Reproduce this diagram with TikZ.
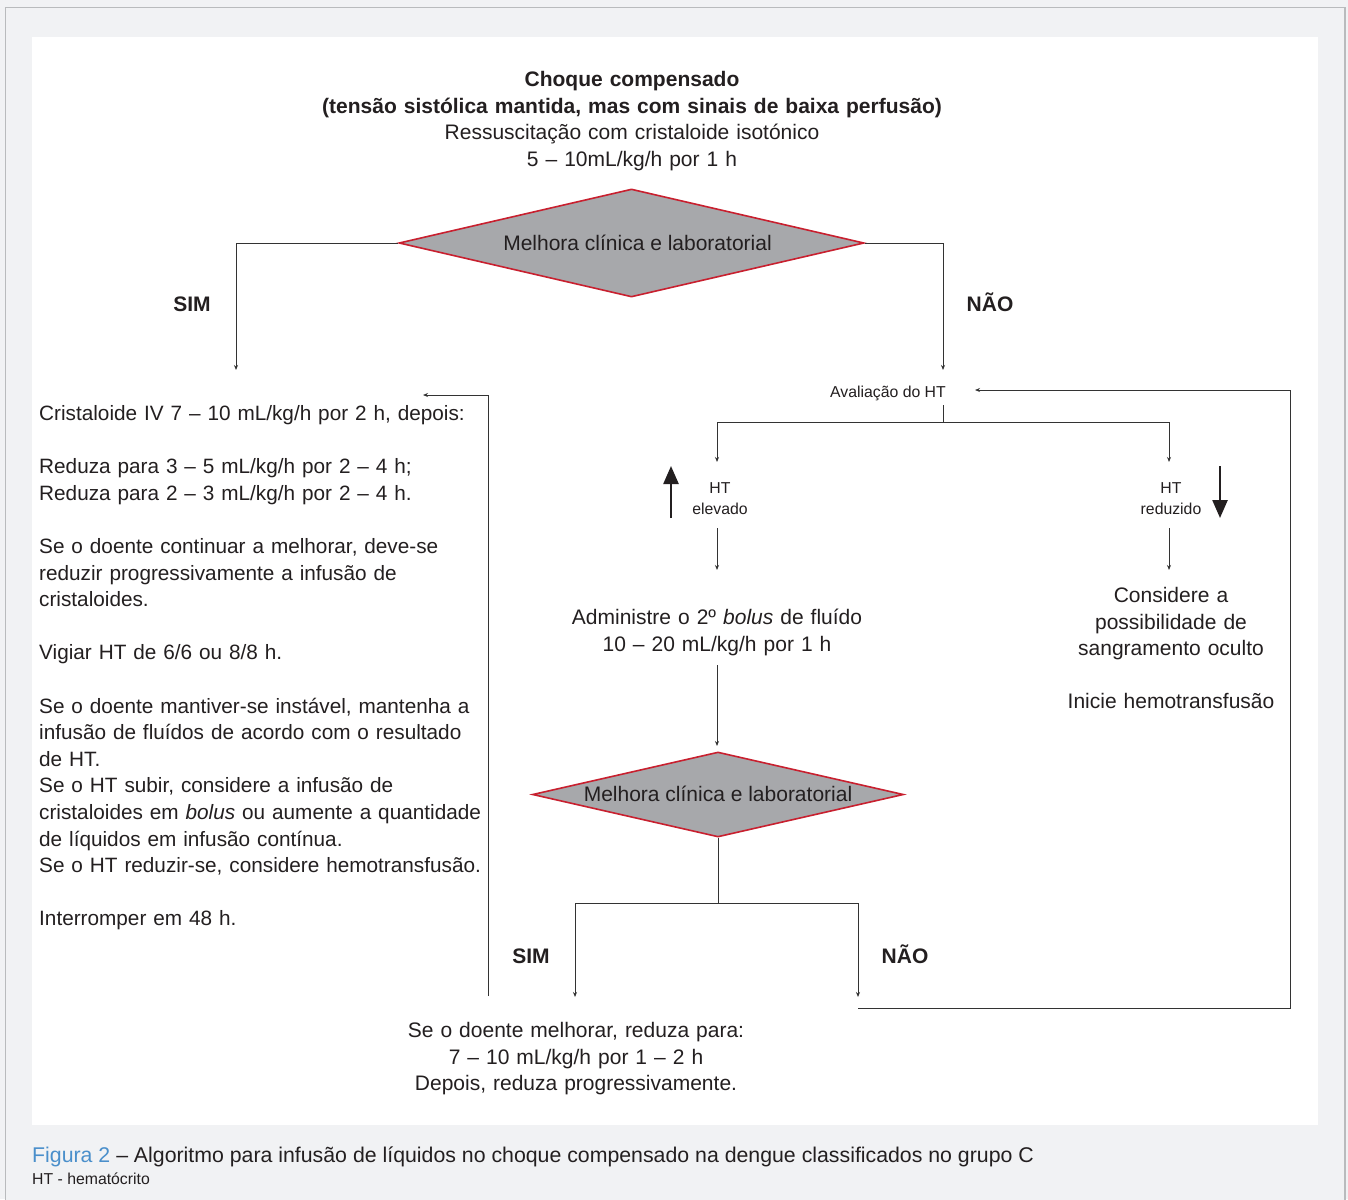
\documentclass[tikz,border=0pt]{standalone}
\usepackage{fontspec}
\setmainfont{Liberation Sans}
\usetikzlibrary{shapes.geometric,arrows.meta}
\definecolor{txt}{HTML}{231F20}
\definecolor{lin}{HTML}{333333}
\definecolor{dfill}{HTML}{A7A8AB}
\definecolor{dred}{HTML}{C8202F}
\definecolor{bgg}{HTML}{F1F2F4}
\definecolor{frm}{HTML}{B9BBBD}
\definecolor{figblue}{HTML}{4A8FCB}
\newcommand\fa{\fontsize{21.0}{26.6}\selectfont}
\newcommand\fl{\fontsize{20.75}{26.6}\selectfont}
\newcommand\fc{\fontsize{21.3}{26.6}\selectfont}
\newcommand\fb{\fontsize{15.8}{21}\selectfont}
\begin{document}
\begin{tikzpicture}[x=1pt,y=-1pt,
  every node/.style={text=txt,inner sep=0pt},
  txa/.style={font=\fa},
  txb/.style={font=\fb},
  lab/.style={font=\fa\bfseries},
  dec/.style={diamond,draw=dred,fill=dfill,line width=1.6pt,inner sep=0pt,font=\fa},
  conn/.style={draw=lin,line width=0.9pt},
  arr/.style={conn,-{Stealth[length=5pt,width=4pt]}},
  bigarr/.style={draw=txt,line width=2.4pt,-{Triangle[length=18pt,width=15pt]}}]
\useasboundingbox (0,0) rectangle (1348,1199);
% background
\fill[bgg] (0,0) rectangle (1348,1199);
\draw[frm,line width=1.2pt,fill=bgg] (5.5,7.5) rectangle (1345,1210);
\fill[white] (32,37) rectangle (1318,1125);
% title
\node[txa,anchor=base,text width=760pt,align=center] (title) at (632,86.5)
  {\textbf{Choque compensado}\\\textbf{(tensão sistólica mantida, mas com sinais de baixa perfusão)}\\Ressuscitação com cristaloide isotónico\\5 – 10mL/kg/h por 1 h};
% first decision
\node[dec,minimum width=465pt,minimum height=108pt,aspect=4.3] (d1) at (631.5,243) {\hspace{12pt}Melhora clínica e laboratorial};
\coordinate (sL) at (236,370);
\coordinate (nR) at (943,370);
\draw[arr] (d1.west) -| (sL);
\draw[arr] (d1.east) -| (nR);
\node[lab,anchor=base] (sim1) at (192,311.5) {SIM};
\node[lab,anchor=base] (nao1) at (990,311.5) {NÃO};
% left text block
\node[font=\fl,anchor=base west,text width=470pt,align=left] (left) at (39,420.5)
  {Cristaloide IV 7 – 10 mL/kg/h por 2 h, depois:\\[26.6pt]
   Reduza para 3 – 5 mL/kg/h por 2 – 4 h;\\
   Reduza para 2 – 3 mL/kg/h por 2 – 4 h.\\[26.6pt]
   Se o doente continuar a melhorar, deve-se\\
   reduzir progressivamente a infusão de\\
   cristaloides.\\[26.6pt]
   Vigiar HT de 6/6 ou 8/8 h.\\[26.6pt]
   Se o doente mantiver-se instável, mantenha a\\
   infusão de fluídos de acordo com o resultado\\
   de HT.\\
   Se o HT subir, considere a infusão de\\
   cristaloides em \textit{bolus} ou aumente a quantidade\\
   de líquidos em infusão contínua.\\
   Se o HT reduzir-se, considere hemotransfusão.\\[26.6pt]
   Interromper em 48 h.};
% HT evaluation
\node[txb,anchor=base] (aval) at (888,397.5) {Avaliação do HT};
\coordinate (a1) at (943,405);
\coordinate (aj) at (943,422);
\coordinate (hL) at (717,462);
\coordinate (hR) at (1169,462);
\draw[conn] (a1) -- (aj);
\draw[arr] (aj) -| (hL);
\draw[arr] (aj) -| (hR);
\node[txb,anchor=base,text width=120pt,align=center] (hel) at (720,493.5) {HT\\elevado};
\node[txb,anchor=base,text width=120pt,align=center] (hred) at (1171,493.5) {HT\\reduzido};
\coordinate (upA) at (671,518);
\coordinate (upB) at (671,466);
\coordinate (dnA) at (1220,466);
\coordinate (dnB) at (1220,518);
\draw[bigarr] (upA) -- (upB);
\draw[bigarr] (dnA) -- (dnB);
\coordinate (e1) at (717,528);
\coordinate (e2) at (717,570);
\coordinate (r1) at (1169,528);
\coordinate (r2) at (1169,570);
\draw[arr] (e1) -- (e2);
\draw[arr] (r1) -- (r2);
\node[txa,anchor=base,text width=400pt,align=center] (adm) at (717,624.5)
  {Administre o 2º \textit{bolus} de fluído\\10 – 20 mL/kg/h por 1 h};
\node[txa,anchor=base,text width=260pt,align=center] (cons) at (1171,602.5)
  {Considere a\\possibilidade de\\sangramento oculto\\[26.6pt]Inicie hemotransfusão};
\coordinate (m1) at (717,665);
\coordinate (m2) at (717,746);
\draw[arr] (m1) -- (m2);
% second decision
\node[dec,minimum width=371pt,minimum height=85pt,aspect=4.36] (d2) at (718,794.5) {\raisebox{1pt}{Melhora clínica e laboratorial}};
\coordinate (bj) at (718,903);
\coordinate (bS) at (575,997);
\coordinate (bN) at (858,997);
\draw[conn] (d2.south) -- (bj);
\draw[arr] (bj) -| (bS);
\draw[arr] (bj) -| (bN);
\node[lab,anchor=base] (sim2) at (531,963.5) {SIM};
\node[lab,anchor=base] (nao2) at (905,963.5) {NÃO};
\node[txa,anchor=base,text width=420pt,align=center] (fin) at (576,1037.5)
  {Se o doente melhorar, reduza para:\\7 – 10 mL/kg/h por 1 – 2 h\\Depois, reduza progressivamente.};
% feedback loops
\coordinate (fb1) at (858,1008);
\coordinate (fbc) at (1290,390);
\coordinate (fbt) at (975,390);
\draw[arr] (fb1) -| (fbc) -- (fbt);
\coordinate (lf1) at (488,996);
\coordinate (lft) at (423,395);
\draw[arr] (lf1) |- (lft);
% caption
\node[font=\fc,anchor=base west] (cap) at (32,1162)
  {\textcolor{figblue}{Figura 2} – Algoritmo para infusão de líquidos no choque compensado na dengue classificados no grupo C};
\node[txb,anchor=base west] (cap2) at (32,1184) {HT - hematócrito};
\end{tikzpicture}
\end{document}
